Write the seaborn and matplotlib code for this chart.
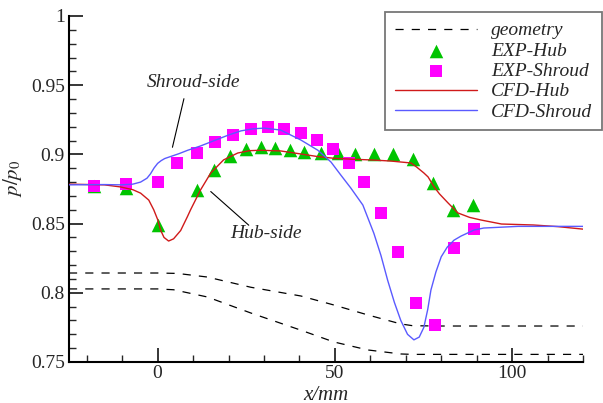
import numpy as np
import pandas as pd
import matplotlib
matplotlib.use("Agg")
import matplotlib.pyplot as plt
from matplotlib.ticker import MultipleLocator, FormatStrFormatter
import seaborn as sns

# ---- data ----
hub_exp_x = [-18, -9, 0, 11, 15.8, 20.4, 24.9, 29.1, 33, 37.3, 41.2, 46, 50.8, 55.7, 61, 66.4, 72, 77.7, 83.3, 89]
hub_exp_y = [0.877, 0.8757, 0.849, 0.874, 0.889, 0.899, 0.904, 0.905, 0.9045, 0.903, 0.902, 0.901, 0.901, 0.900,
             0.900, 0.900, 0.8965, 0.879, 0.860, 0.8635]

shroud_exp_x = [-18, -9, 0, 5.6, 11, 16.1, 21.2, 26.3, 31.2, 35.6, 40.4, 45.1, 49.5, 54, 58.3, 63, 67.9, 73,
                78.3, 83.7, 89.3]
shroud_exp_y = [0.877, 0.8785, 0.880, 0.894, 0.901, 0.909, 0.914, 0.918, 0.920, 0.9185, 0.9155, 0.9105, 0.904,
                0.894, 0.880, 0.8575, 0.8295, 0.7926, 0.7767, 0.8324, 0.846]

hub_cfd_x = [-25, -15, -10.5, -7, -4.8, -2.5, -1.1, 0, 0.8, 1.8, 3.1, 4.5, 6.5, 8.4, 9.3, 12.1, 15, 18.6,
             22.6, 26, 29, 34.7, 40.4, 45, 49.7, 55, 60.2, 65.8, 68.6, 71.5, 73, 75.1, 76.3, 78, 79.5, 81.9,
             84.7, 88, 91.2, 97, 106, 113, 120]
hub_cfd_y = [0.8785, 0.878, 0.8765, 0.8745, 0.872, 0.867, 0.860, 0.853, 0.8455, 0.840, 0.8374, 0.839, 0.845,
             0.855, 0.860, 0.8743, 0.8866, 0.896, 0.901, 0.9027, 0.903, 0.9025, 0.9003, 0.8985, 0.8972, 0.8965,
             0.896, 0.8952, 0.8945, 0.8938, 0.891, 0.8866, 0.8837, 0.8765, 0.8715, 0.865, 0.8577, 0.8545,
             0.8526, 0.8497, 0.849, 0.8478, 0.846]

shroud_cfd_x = [-25, -15, -10.5, -7, -4.8, -3, -2, -1, 0, 1, 2, 3.7, 6, 8.5, 12, 16, 20, 23.5, 27, 30, 34.7,
                40.4, 45.2, 48.9, 51.7, 54.5, 57.9, 61, 63, 64.9, 66.8, 68.6, 70.5, 72.3, 73.8, 75.1, 76.2,
                77.1, 78.5, 80, 81.7, 83.6, 85.6, 89.3, 92, 101.7, 110, 120]
shroud_cfd_y = [0.878, 0.8782, 0.878, 0.8785, 0.880, 0.8828, 0.886, 0.8902, 0.8935, 0.8955, 0.897, 0.8985,
                0.9005, 0.903, 0.906, 0.910, 0.914, 0.917, 0.9185, 0.919, 0.9176, 0.9104, 0.903, 0.8945, 0.885,
                0.8757, 0.8634, 0.843, 0.827, 0.809, 0.793, 0.780, 0.770, 0.766, 0.768, 0.775, 0.788, 0.802,
                0.815, 0.826, 0.833, 0.838, 0.841, 0.8454, 0.8468, 0.848, 0.848, 0.848]

geo_upper_x = [-25, 0, 5.6, 14, 26.3, 40.4, 49.7, 59.3, 68.6, 72, 80, 120]
geo_upper_y = [0.8143, 0.8143, 0.8140, 0.8114, 0.804, 0.7977, 0.7912, 0.784, 0.7775, 0.7762, 0.776, 0.776]
geo_lower_x = [-25, 0, 4.5, 14, 26.3, 40.4, 49.7, 59.3, 68.6, 72, 80, 120]
geo_lower_y = [0.8028, 0.8028, 0.8022, 0.797, 0.7854, 0.773, 0.7645, 0.7587, 0.7558, 0.7555, 0.7555, 0.7555]

x_ticks = [0, 50, 100]
y_ticks = [0.75, 0.8, 0.85, 0.9, 0.95, 1.0]

# ---- styling ----
sns.set_style("ticks")
plt.rcParams["font.family"] = ["Liberation Serif", "DejaVu Serif"]
plt.rcParams["mathtext.fontset"] = "stix"

fig = plt.figure(figsize=(6.03, 4.03), dpi=100)
ax = fig.add_axes([69 / 603, 1 - 362 / 403, (583 - 69) / 603, (362 - 16) / 403])

red = "#d01a1a"
blue = "#5a5aff"
green = "#00c400"
magenta = "#ff00ff"

geo_u = pd.DataFrame({"x": geo_upper_x, "y": geo_upper_y})
geo_l = pd.DataFrame({"x": geo_lower_x, "y": geo_lower_y})
sns.lineplot(data=geo_u, x="x", y="y", ax=ax, color="black", lw=0.9, sort=False, estimator=None,
             label="geometry")
sns.lineplot(data=geo_l, x="x", y="y", ax=ax, color="black", lw=0.9, sort=False, estimator=None)
for ln in ax.lines[:2]:
    ln.set_dashes((6.5, 6.5))

hub_exp = pd.DataFrame({"x": hub_exp_x, "y": hub_exp_y})
shr_exp = pd.DataFrame({"x": shroud_exp_x, "y": shroud_exp_y})
sns.scatterplot(data=hub_exp, x="x", y="y", ax=ax, marker="^", s=95, color=green, linewidth=0,
                label="EXP-Hub", zorder=3)
sns.scatterplot(data=shr_exp, x="x", y="y", ax=ax, marker="s", s=68, color=magenta, linewidth=0,
                label="EXP-Shroud", zorder=3)

hub_cfd = pd.DataFrame({"x": hub_cfd_x, "y": hub_cfd_y})
shr_cfd = pd.DataFrame({"x": shroud_cfd_x, "y": shroud_cfd_y})
sns.lineplot(data=hub_cfd, x="x", y="y", ax=ax, color=red, lw=1.0, sort=False, estimator=None,
             label="CFD-Hub", zorder=4)
sns.lineplot(data=shr_cfd, x="x", y="y", ax=ax, color=blue, lw=1.0, sort=False, estimator=None,
             label="CFD-Shroud", zorder=4)

# annotations
ax.annotate("", xy=(4.0, 0.9032), xytext=(7.6, 0.9422),
            arrowprops=dict(arrowstyle="-", color="black", lw=0.8))
ax.text(10.2, 0.9523, "Shroud-side", style="italic", fontsize=14, ha="center", va="center")
ax.annotate("", xy=(26.3, 0.8475), xytext=(14.4, 0.8745),
            arrowprops=dict(arrowstyle="-", color="black", lw=0.8))
ax.text(30.5, 0.8430, "Hub-side", style="italic", fontsize=14, ha="center", va="center")

ax.set_xlim(-25, 120)
ax.set_ylim(0.75, 1.0)
ax.set_xticks(x_ticks)
ax.set_yticks(y_ticks)
ax.xaxis.set_minor_locator(MultipleLocator(10))
ax.yaxis.set_minor_locator(MultipleLocator(0.01))
ax.yaxis.set_major_formatter(FormatStrFormatter("%g"))
ax.tick_params(which="major", direction="in", length=10, width=1.3, labelsize=14)
ax.tick_params(axis="y", which="major", pad=3)
ax.tick_params(axis="x", which="major", pad=2)
ax.tick_params(which="minor", direction="in", length=5, width=1.0)
sns.despine(ax=ax)
for sp in ("left", "bottom"):
    ax.spines[sp].set_linewidth(1.5)
    ax.spines[sp].set_color("black")

ax.set_xlabel("x/mm", fontsize=15, style="italic")
ax.xaxis.set_label_coords(0.5, -0.068)
ax.set_ylabel("$p/p_0$", fontsize=15)
ax.yaxis.set_label_coords(-0.087, 0.53)

leg = ax.legend(loc="upper right", bbox_to_anchor=(602 / 603, 1 - 12 / 403),
                bbox_transform=fig.transFigure, frameon=True, fancybox=False,
                prop={"family": "Liberation Serif", "style": "italic", "size": 14},
                handlelength=4.2, labelspacing=0.14, borderpad=0.5, handletextpad=0.75,
                borderaxespad=0)
leg.get_frame().set_edgecolor("#555555")
leg.get_frame().set_linewidth(1.3)

fig.savefig("out.png", dpi=100)
